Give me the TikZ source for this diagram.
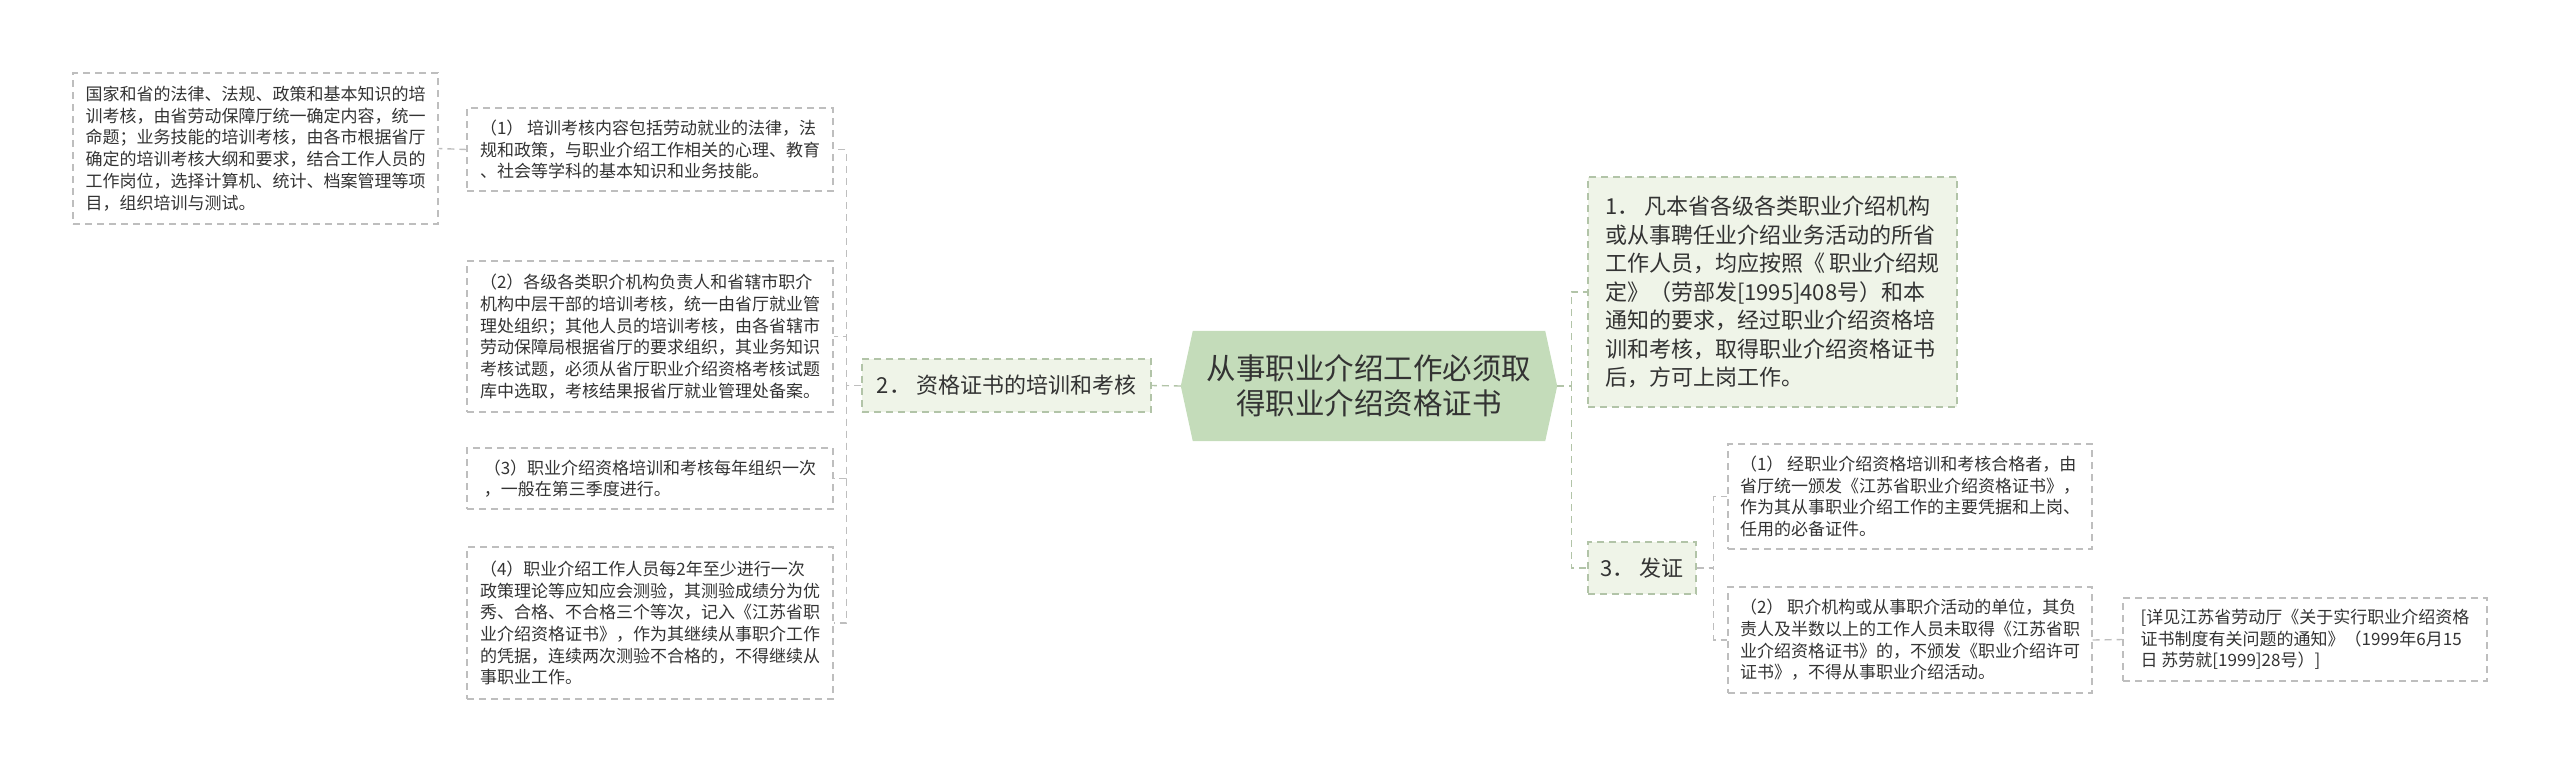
\documentclass[tikz,border=0pt]{standalone}
\usepackage{fontspec}
\setmainfont{Noto Sans CJK SC}
\usetikzlibrary{backgrounds}
\definecolor{root fill}{RGB}{196,220,186}
\definecolor{branch fill}{RGB}{239,244,232}
\definecolor{branch edge}{RGB}{178,196,168}
\definecolor{leaf edge}{RGB}{190,190,190}
\definecolor{ink}{RGB}{51,51,51}
\tikzset{box/.style={dash pattern=on 7pt off 5pt, line width=1.4pt, align=left, text=ink, inner sep=0pt},
	leaf/.style={box, draw=leaf edge, font=\fontsize{17pt}{21.7pt}\selectfont},
	branch/.style={box, draw=branch edge, fill=branch fill, font=\fontsize{22pt}{28.5pt}\selectfont},
	link/.style={draw=leaf edge, dash pattern=on 7pt off 5pt, line width=1.4pt},
	trunk/.style={link, draw=branch edge}}

\begin{document}
\begin{tikzpicture}[x=1pt,y=-1pt]
		\useasboundingbox (0,0) rectangle (2560,772);
		\node[font=\fontsize{29.5pt}{35pt}\selectfont, text=ink, align=center, inner sep=0pt,
			minimum width=352pt, minimum height=110pt] (main) at (1369,386)
			{从事职业介绍工作必须取\\得职业介绍资格证书};
		\begin{scope}[on background layer]
			\fill[root fill] ([xshift=-12pt]main.west) -- (main.north west) -- (main.north east)
			-- ([xshift=12pt]main.east) -- (main.south east) -- (main.south west) -- cycle;
			\end{scope}
		
		% left side
		\node[branch, minimum width=289pt, minimum height=53pt] (train) at (1006.5,385.5) {2．\ 资格证书的培训和考核};
		\node[leaf, minimum width=366pt, minimum height=83pt] (t1) at (650,149.5)
			{（1） 培训考核内容包括劳动就业的法律，法\\规和政策，与职业介绍工作相关的心理、教育\\、社会等学科的基本知识和业务技能。};
		\node[leaf, minimum width=365pt, minimum height=151pt] (t1a) at (255.5,148.5)
			{国家和省的法律、法规、政策和基本知识的培\\训考核，由省劳动保障厅统一确定内容，统一\\命题；业务技能的培训考核，由各市根据省厅\\确定的培训考核大纲和要求，结合工作人员的\\工作岗位，选择计算机、统计、档案管理等项\\目，组织培训与测试。};
		\node[leaf, minimum width=366pt, minimum height=151pt] (t2) at (650,336.5)
			{（2）各级各类职介机构负责人和省辖市职介\\机构中层干部的培训考核，统一由省厅就业管\\理处组织；其他人员的培训考核，由各省辖市\\劳动保障局根据省厅的要求组织，其业务知识\\考核试题，必须从省厅职业介绍资格考核试题\\库中选取，考核结果报省厅就业管理处备案。};
		\node[leaf, minimum width=366pt, minimum height=61pt] (t3) at (650,478.5)
			{（3）职业介绍资格培训和考核每年组织一次\\，一般在第三季度进行。};
		\node[leaf, minimum width=366pt, minimum height=152pt] (t4) at (650,623)
			{（4）职业介绍工作人员每2年至少进行一次\\政策理论等应知应会测验，其测验成绩分为优\\秀、合格、不合格三个等次，记入《江苏省职\\业介绍资格证书》，作为其继续从事职介工作\\的凭据，连续两次测验不合格的，不得继续从\\事职业工作。};
		
		% right side
		\node[branch, minimum width=369pt, minimum height=230pt] (qual) at (1772.5,292)
			{1．\ 凡本省各级各类职业介绍机构\\或从事聘任业介绍业务活动的所省\\工作人员，均应按照《 职业介绍规\\定》（劳部发[1995]408号）和本\\通知的要求，经过职业介绍资格培\\训和考核，取得职业介绍资格证书\\后，方可上岗工作。};
		\node[branch, minimum width=108pt, minimum height=52pt] (issue) at (1642,568) {3．\ 发证};
		\node[leaf, minimum width=364pt, minimum height=105pt] (i1) at (1910,496.5)
			{（1） 经职业介绍资格培训和考核合格者，由\\省厅统一颁发《江苏省职业介绍资格证书》，\\作为其从事职业介绍工作的主要凭据和上岗、\\任用的必备证件。};
		\node[leaf, minimum width=364pt, minimum height=106pt] (i2) at (1910,640)
			{（2） 职介机构或从事职介活动的单位，其负\\责人及半数以上的工作人员未取得《江苏省职\\业介绍资格证书》的，不颁发《职业介绍许可\\证书》，不得从事职业介绍活动。};
		\node[leaf, minimum width=364pt, minimum height=83pt] (note) at (2305,639.5)
			{[详见江苏省劳动厅《关于实行职业介绍资格\\证书制度有关问题的通知》（1999年6月15\\日 苏劳就[1999]28号）]};
		
		\draw[trunk] ([xshift=-12pt]main.west) -- (train.east);
		\foreach \t in {t1,t2,t3,t4}
			\draw[link] (train.west) -- ++(-15,0) |- (\t.east);
		\draw[link] (t1.west) -- (t1a.east);
		\foreach \q in {qual,issue}
			\draw[trunk] ([xshift=12pt]main.east) -- ++(14,0) |- (\q.west);
		\foreach \i in {i1,i2}
			\draw[link] (issue.east) -- ++(17,0) |- (\i.west);
		\draw[link] (i2.east) -- (note.west);
		\end{tikzpicture}
\end{document}
